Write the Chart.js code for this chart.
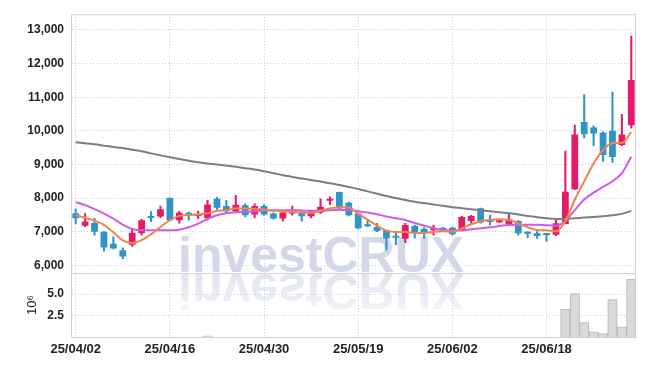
<!DOCTYPE html>
<html><head><meta charset="utf-8">
<script src="https://cdn.jsdelivr.net/npm/chart.js@4/dist/chart.umd.min.js"></script>
<style>html,body{margin:0;padding:0;background:#fff;overflow:hidden}</style>
</head><body>
<canvas id="c" width="645" height="366"></canvas>
<script>
// ---- data ----
const dates = ["25/04/02","25/04/03","25/04/04","25/04/07","25/04/08","25/04/09","25/04/10","25/04/11","25/04/14","25/04/15",
"25/04/16","25/04/17","25/04/18","25/04/21","25/04/22","25/04/23","25/04/24","25/04/25","25/04/28","25/04/29",
"25/04/30","25/05/02","25/05/07","25/05/08","25/05/09","25/05/12","25/05/13","25/05/14","25/05/15","25/05/16",
"25/05/19","25/05/20","25/05/21","25/05/22","25/05/23","25/05/26","25/05/27","25/05/28","25/05/29","25/05/30",
"25/06/02","25/06/04","25/06/05","25/06/09","25/06/10","25/06/11","25/06/12","25/06/13","25/06/16","25/06/17",
"25/06/18","25/06/19","25/06/20","25/06/23","25/06/24","25/06/25","25/06/26","25/06/27","25/06/30","25/07/01"];
const opens  = [7550,7180,7260,7000,6640,6450,6610,6950,7440,7450, 8000,7340,7560,7470,7400,7980,7765,7610,7785,7510,
                7765,7540,7390,7540,7560,7460,7570,7920,8180,7860, 7540,7180,7150,7050,6830,6790,7170,7090,7040,7120,
                7120,7030,7320,7700,7330,7280,7230,7320,6980,6950, 6920,6910,7230,8260,10260,10100,9950,10000,9580,10170];
const highs  = [7680,7540,7400,7000,6850,6520,7070,7370,7600,7760, 8010,7610,7590,7610,7930,8020,7930,8080,7830,7830,
                7800,7560,7590,7765,7610,7610,7980,8040,8180,7880, 7540,7360,7250,7050,7000,7250,7200,7120,7200,7120,
                7140,7460,7490,7700,7490,7340,7520,7330,7000,7000, 6940,7400,9400,10170,11080,10150,9970,11150,10490,12820];
const lows   = [7230,7150,6900,6420,6490,6200,6560,6900,7300,7420, 7330,7250,7340,7390,7340,7640,7560,7590,7440,7410,
                7490,7370,7310,7490,7310,7410,7540,7800,7680,7470, 7080,7150,7000,6460,6610,6670,6810,6810,6900,7000,
                6900,7020,7250,7250,7200,7270,7200,6900,6820,6800, 6710,6880,7230,8250,9790,9560,9090,9060,9560,10080];
const closes = [7400,7300,7000,6530,6500,6260,6970,7340,7410,7670, 7340,7560,7480,7520,7810,7710,7610,7800,7490,7765,
                7510,7390,7570,7650,7460,7590,7745,7970,7700,7490, 7100,7160,7020,6800,6820,7200,6950,6950,7060,7020,
                6920,7440,7470,7270,7290,7320,7370,6950,6940,6870, 6900,7250,8190,9890,9900,9920,9280,9220,9890,11510];
const ma5  = [7490,7410,7330,7200,6980,6740,6660,6750,6920,7140, 7340,7470,7500,7510,7550,7620,7640,7690,7690,7680,
              7660,7630,7600,7590,7570,7560,7620,7690,7730,7720, 7530,7360,7180,7030,6990,6990,6970,6960,7000,7010,
              7000,7100,7220,7310,7350,7370,7350,7250,7130,7050, 7040,7010,7320,7950,8500,9030,9430,9640,9640,9960];
const ma20 = [7880,7790,7670,7540,7390,7210,7080,7040,7040,7040, 7040,7060,7130,7240,7380,7490,7550,7580,7590,7610,
              7630,7640,7640,7640,7630,7620,7620,7640,7650,7640, 7610,7570,7520,7450,7400,7350,7260,7180,7100,7050,
              7030,7040,7070,7100,7130,7170,7200,7210,7210,7210, 7190,7180,7320,7640,7960,8160,8330,8500,8740,9230];
const ma60 = [9660,9630,9600,9560,9520,9490,9440,9395,9330,9270, 9215,9160,9110,9065,9030,9000,8965,8930,8890,8850,
              8800,8740,8680,8630,8580,8540,8490,8440,8390,8330, 8270,8200,8130,8060,8000,7940,7890,7850,7810,7770,
              7730,7700,7670,7640,7610,7580,7550,7510,7470,7430, 7400,7380,7380,7400,7420,7440,7460,7490,7530,7620];
const volumes = [0,0,0,0,0,0,0,0,0,0, 0,0,0,0,0.15,0,0,0,0,0, 0,0,0,0,0,0,0,0,0,0,
                 0,0,0,0,0,0,0,0,0,0, 0,0,0,0,0,0,0,0,0,0, 0,0,3.26,5.05,1.67,0.61,0.39,4.36,1.18,6.75];
const priceTicks = [6000,7000,8000,9000,10000,11000,12000,13000];
const volTicks = [2.5,5.0];

// ---- styles ----
const UP = '#e31b68', DOWN = '#2f94c8';
const GRID = '#c8ccd9', FRAME = '#d2d2d2';
const FONT = "'Liberation Sans',Arial,sans-serif";
const TXT = '#222';
const candleColor = opens.map((o,i)=> closes[i] >= o ? UP : DOWN);

const framePlugin = {
  id: 'framePlugin',
  beforeDatasetsDraw(chart) {
    const ctx = chart.ctx;
    const base = chart.scales.y.bottom;
    ctx.save();
    ctx.font = "bold 50px 'Liberation Sans', sans-serif";
    ctx.textBaseline = 'alphabetic';
    ctx.fillStyle = '#d2d8e8';
    ctx.fillText('investCRUX', 178, base - 1);
    ctx.restore();
    ctx.save();
    ctx.translate(0, 2 * base);
    ctx.scale(1, -1);
    const g = ctx.createLinearGradient(0, base, 0, base - 48);
    g.addColorStop(0, 'rgba(210,216,232,0.7)');
    g.addColorStop(1, 'rgba(210,216,232,0.2)');
    ctx.fillStyle = g;
    ctx.font = "bold 50px 'Liberation Sans', sans-serif";
    ctx.fillText('investCRUX', 178, base - 1);
    ctx.restore();
  },
  afterDraw(chart) {
    const {ctx, chartArea: a} = chart;
    const sep = chart.scales.y.bottom;
    ctx.save();
    ctx.strokeStyle = FRAME;
    ctx.lineWidth = 1;
    ctx.beginPath();
    ctx.moveTo(a.left, a.top + 0.5); ctx.lineTo(a.right, a.top + 0.5);
    ctx.moveTo(a.right - 0.5, a.top); ctx.lineTo(a.right - 0.5, a.bottom);
    ctx.moveTo(a.left, Math.round(sep) + 0.5); ctx.lineTo(a.right, Math.round(sep) + 0.5);
    ctx.stroke();
    ctx.restore();
  }
};

new Chart(document.getElementById('c'), {
  type: 'bar',
  data: {
    labels: dates,
    datasets: [
      { type:'line', label:'MA5', data: ma5, yAxisID:'y', borderColor:'#f0844c', borderWidth:2, pointRadius:0, cubicInterpolationMode:'monotone', order:0 },
      { type:'line', label:'MA20', data: ma20, yAxisID:'y', borderColor:'#cc5ce9', borderWidth:2, pointRadius:0, cubicInterpolationMode:'monotone', order:0 },
      { type:'line', label:'MA60', data: ma60, yAxisID:'y', borderColor:'#7d7d7d', borderWidth:2, pointRadius:0, cubicInterpolationMode:'monotone', order:0 },
      { label:'wick', data: lows.map((l,i)=>[l, highs[i]]), yAxisID:'y', backgroundColor: candleColor, barThickness:1.4, grouped:false, order:2 },
      { label:'body', data: opens.map((o,i)=>[Math.min(o,closes[i]), Math.max(o,closes[i])]), yAxisID:'y', backgroundColor: candleColor, barPercentage:0.72, categoryPercentage:1, minBarLength:2, grouped:false, order:1 },
      { label:'volume', data: volumes, yAxisID:'yv', backgroundColor:'#d9d9d9', borderColor:'#b4b4b4', borderWidth:1, barPercentage:1, categoryPercentage:1, grouped:false, order:3 }
    ]
  },
  options: {
    responsive: false,
    animation: false,
    layout: { padding: { left: 0, right: 9, top: 9, bottom: 0 } },
    plugins: { legend: { display:false }, tooltip: { enabled:false } },
    scales: {
      x: {
        type: 'category',
        offset: true,
        afterFit: s => { s.height = 29; },
        grid: { offset:false, drawTicks:false, color: c => (c.index % 10 === 0 ? GRID : 'rgba(0,0,0,0)'), lineWidth: 1 },
        border: { color: FRAME, dash: [1,2] },
        ticks: { autoSkip:false, maxRotation:0, minRotation:0, padding:5, color:TXT, font:{ family:FONT, size:13, weight:'bold' },
                 callback: (v,i) => (i % 10 === 0 ? dates[i] : '') }
      },
      y: {
        type: 'linear', position: 'left', stack: 'main', stackWeight: 263, weight: 2,
        min: 5770, max: 13470,
        afterBuildTicks: s => { s.ticks = priceTicks.map(v => ({ value: v })); },
        afterFit: s => { s.width = 71; },
        grid: { color: GRID, drawTicks:false },
        border: { color: FRAME, dash: [1,2] },
        ticks: { padding: 7, color:TXT, font:{ family:FONT, size:12, weight:'bold' }, callback: v => Number(v).toLocaleString('en-US') }
      },
      yv: {
        type: 'linear', position: 'left', stack: 'main', stackWeight: 65, weight: 1,
        min: 0, max: 7.45,
        afterBuildTicks: s => { s.ticks = volTicks.map(v => ({ value: v })); },
        afterFit: s => { s.width = 71; },
        grid: { color: GRID, drawTicks:false },
        border: { color: FRAME, dash: [1,2] },
        title: { display:true, text:'10⁶', color:TXT, font:{ family:FONT, size:13 }, padding:{ top: 25, bottom: 0 } },
        ticks: { padding: 7, color:TXT, font:{ family:FONT, size:12, weight:'bold' }, callback: v => Number(v).toFixed(1) }
      }
    }
  },
  plugins: [framePlugin]
});
</script>
</body></html>
